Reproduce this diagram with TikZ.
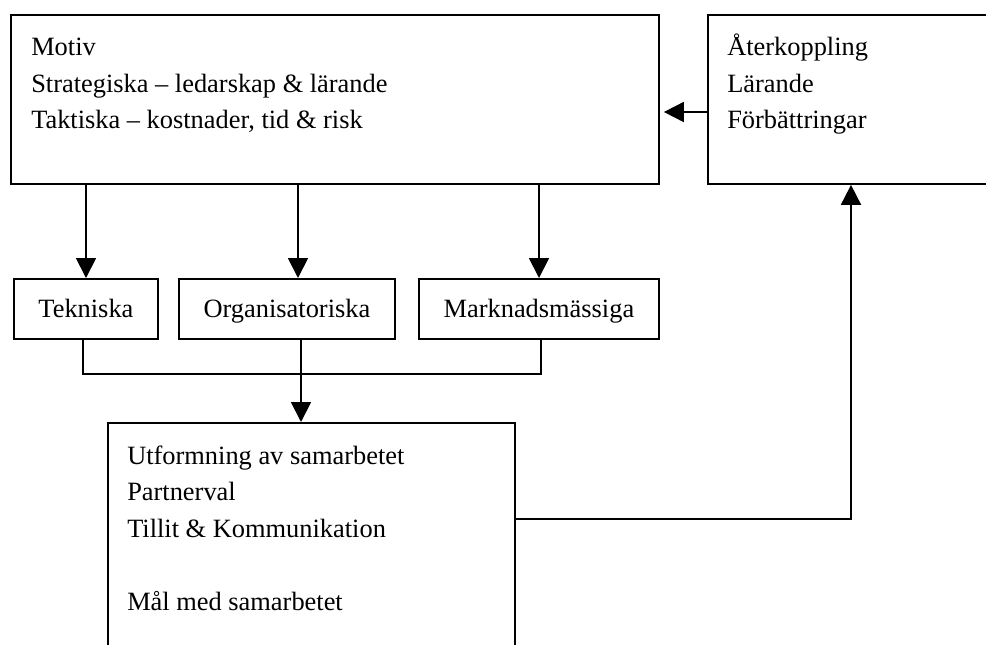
\documentclass[tikz,border=0pt]{standalone}
\usepackage{fontspec}
\setmainfont{Liberation Serif}
\usetikzlibrary{arrows.meta}
\begin{document}
\begin{tikzpicture}[x=0.75pt,y=-0.75pt,
  box/.style={draw, line width=1.4pt, rectangle, inner sep=0pt, anchor=north west},
  smallbox/.style={box, minimum height=45pt, text height=13.5pt, text depth=0pt,
    font=\fontsize{19.8}{24}\selectfont},
  txt/.style={anchor=base west, inner sep=0pt, font=\fontsize{19.8}{24}\selectfont},
  conn/.style={line width=1.4pt},
  arr/.style={conn, -{Triangle[length=15pt,width=15pt]}}]
\useasboundingbox (0,0) rectangle (986,644);
\clip (0,0) rectangle (986,644);
\fill[white] (0,0) rectangle (986,644);

% boxes
\node[box, minimum width=486pt, minimum height=126.75pt] (motiv) at (10,14) {};
\node[box, minimum width=300pt, minimum height=126.75pt] (fb) at (707,14) {};
\node[smallbox, minimum width=108pt] (tek) at (13,278) {Tekniska};
\node[smallbox, minimum width=162pt] (org) at (178,278) {Organisatoriska};
\node[smallbox, minimum width=180pt] (mark) at (418,278) {Marknadsmässiga};
\node[box, minimum width=305.25pt, minimum height=240pt] (bot) at (107,422) {};

% texts
\node[txt] (m1) at (31,55) {Motiv};
\node[txt] (m2) at (31,92) {Strategiska – ledarskap \& lärande};
\node[txt] (m3) at (31,128) {Taktiska – kostnader, tid \& risk};
\node[txt] (f1) at (727,55) {Återkoppling};
\node[txt] (f2) at (727,92) {Lärande};
\node[txt] (f3) at (727,128) {Förbättringar};
\node[txt] (b1) at (127,464) {Utformning av samarbetet};
\node[txt] (b2) at (127,500.5) {Partnerval};
\node[txt] (b3) at (127,537) {Tillit \& Kommunikation};
\node[txt] (b4) at (127,610) {Mål med samarbetet};

% arrows from Motiv
\coordinate (a1) at (86,0);
\coordinate (a2) at (298,0);
\coordinate (a3) at (539,0);
\draw[arr] (a1 |- motiv.south) -- (a1 |- tek.north);
\draw[arr] (a2 |- motiv.south) -- (a2 |- org.north);
\draw[arr] (a3 |- motiv.south) -- (a3 |- mark.north);

% collector
\coordinate (c1) at (83,374);
\coordinate (j) at (301,374);
\coordinate (c3) at (541,374);
\draw[conn] (c1 |- tek.south) -- (c1) -- (c3) -- (c3 |- mark.south);
\draw[conn] (j |- org.south) -- (j);
\draw[arr] (j) -- (j |- bot.north);

% feedback
\coordinate (k) at (851,519);
\draw[arr] (bot.east |- k) -- (k) -- (k |- fb.south);
\coordinate (h) at (0,112);
\draw[arr, shorten >=3pt] (fb.west |- h) -- (motiv.east |- h);
\end{tikzpicture}
\end{document}
